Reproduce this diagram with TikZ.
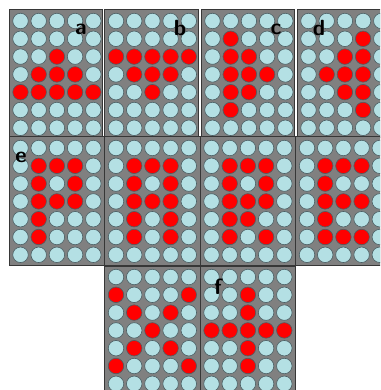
\documentclass[tikz,border=0pt]{standalone}
\usetikzlibrary{positioning}
\definecolor{panelcol}{RGB}{128,128,128}
\definecolor{edgecol}{RGB}{55,55,55}
\definecolor{offcol}{RGB}{180,224,228}
\definecolor{oncol}{RGB}{255,0,0}
\definecolor{rimcol}{RGB}{75,95,100}
\def\patA{{0,0,0,0,0, 0,0,0,0,0, 0,0,1,0,0, 0,1,1,1,0, 1,1,1,1,1, 0,0,0,0,0, 0,0,0,0,0}}
\def\patB{{0,0,0,0,0, 0,0,0,0,0, 1,1,1,1,1, 0,1,1,1,0, 0,0,1,0,0, 0,0,0,0,0, 0,0,0,0,0}}
\def\patC{{0,0,0,0,0, 0,1,0,0,0, 0,1,1,0,0, 0,1,1,1,0, 0,1,1,0,0, 0,1,0,0,0, 0,0,0,0,0}}
\def\patD{{0,0,0,0,0, 0,0,0,1,0, 0,0,1,1,0, 0,1,1,1,0, 0,0,1,1,0, 0,0,0,1,0, 0,0,0,0,0}}
\def\patP{{0,0,0,0,0, 0,1,1,1,0, 0,1,0,1,0, 0,1,1,1,0, 0,1,0,0,0, 0,1,0,0,0, 0,0,0,0,0}}
\def\patAA{{0,0,0,0,0, 0,1,1,1,0, 0,1,0,1,0, 0,1,1,1,0, 0,1,0,1,0, 0,1,0,1,0, 0,0,0,0,0}}
\def\patR{{0,0,0,0,0, 0,1,1,1,0, 0,1,0,1,0, 0,1,1,1,0, 0,1,1,0,0, 0,1,0,1,0, 0,0,0,0,0}}
\def\patE{{0,0,0,0,0, 0,1,1,1,0, 0,1,0,0,0, 0,1,1,1,0, 0,1,0,0,0, 0,1,1,1,0, 0,0,0,0,0}}
\def\patX{{0,0,0,0,0, 1,0,0,0,1, 0,1,0,1,0, 0,0,1,0,0, 0,1,0,1,0, 1,0,0,0,1, 0,0,0,0,0}}
\def\patPlus{{0,0,0,0,0, 0,0,1,0,0, 0,0,1,0,0, 1,1,1,1,1, 0,0,1,0,0, 0,0,1,0,0, 0,0,0,0,0}}

\begin{document}
\begin{tikzpicture}[
    x=1pt, y=-1pt,
    panel/.style={rectangle, fill=panelcol, draw=edgecol, line width=1pt, inner sep=0pt, minimum height=128pt},
    dot/.style={circle, minimum size=15.5pt, inner sep=0pt, draw=rimcol, line width=0.6pt},
    tag/.style={font=\sffamily\bfseries\fontsize{22}{22}\selectfont, text=black, inner sep=0pt},
]
\useasboundingbox[fill=white] (0,0) rectangle (380,390);
\clip (0,0) rectangle (380,390);
\foreach \p/\px/\py/\pw/\pat in {p1/9/10/93/\patA, p2/104.5/10/93.5/\patB, p3/201/10/93/\patC, p4/297/10/93/\patD,
    p5/9/137/95.5/\patP, p6/104.5/137/95.5/\patAA, p7/200/137/95.5/\patR, p8/295.5/137/95.5/\patE,
    p9/104.5/266/95.5/\patX, p10/200/266/95.5/\patPlus} {
    \node[panel, minimum width=\pw pt] (\p) at (\px+\pw/2, \py+64) {};
    \foreach \r in {0,...,6} {
        \foreach \c in {0,...,4} {
            \pgfmathtruncatemacro\on{\pat[\r*5+\c]}
            \ifnum\on=1 \def\dotcol{oncol}\else\def\dotcol{offcol}\fi
            \node[dot, fill=\dotcol] (\p-\r-\c) at (\px+11.5+18.2*\c, \py+11+17.8*\r) {};
        }
    }
}
\node[tag] (taga) at (81,29) {a};
\node[tag] (tagb) at (180,28) {b};
\node[tag] (tagc) at (276,29) {c};
\node[tag] (tagd) at (319,28) {d};
\node[tag] (tage) at (21,157) {e};
\node[tag] (tagf) at (218,287) {f};
\end{tikzpicture}
\end{document}
